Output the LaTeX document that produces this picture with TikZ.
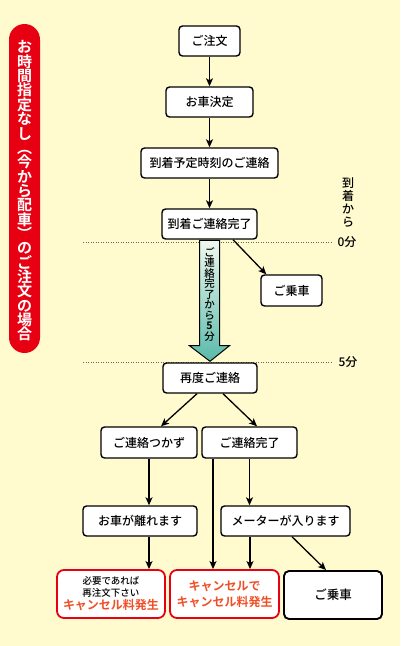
\documentclass[tikz,border=0pt]{standalone}
\usepackage{fontspec}
\setmainfont{Noto Sans CJK JP}[UprightFont={Noto Sans CJK JP Medium},BoldFont={Noto Sans CJK JP Bold}]
\usetikzlibrary{arrows.meta,calc}
\definecolor{bg}{RGB}{255,251,207}
\definecolor{pillred}{RGB}{230,0,18}
\definecolor{cancel}{RGB}{240,80,40}
\definecolor{tealA}{RGB}{88,186,170}
\definecolor{tealB}{RGB}{240,248,238}
\begin{document}
\begin{tikzpicture}[x=1pt,y=-1pt,
  box/.style={draw, line width=1.4pt, rounded corners=3.5pt, fill=white, inner sep=0,
              minimum height=30pt, font=\fontsize{12}{12}\selectfont},
  redbox/.style={draw=pillred, line width=1.8pt, rounded corners=7pt, fill=white, inner sep=0,
              minimum height=48pt, align=center},
  arr/.style={line width=1.3pt, -{Stealth[length=8pt,width=7pt,inset=2pt]}},
  guide/.style={black!60, line width=0.8pt, dash pattern=on 1pt off 1.5pt},
  lbl/.style={font=\fontsize{12}{12}\selectfont, inner sep=0}]
\useasboundingbox (0,0) rectangle (400,646);
\fill[bg] (0,0) rectangle (400,646);

% left pill
\node[fill=pillred, rounded corners=15.5pt, minimum width=31pt, minimum height=329pt, inner sep=0] (pill) at (24.5,188.5) {};
\node[text=white, align=center, inner sep=0, font=\bfseries\fontsize{15}{14.35}\selectfont] (pilltext) at (24.5,191) {お\\時\\間\\指\\定\\な\\し\\︵\\今\\か\\ら\\配\\車\\︶\\の\\ご\\注\\文\\の\\場\\合};

% guide lines
\draw[guide] (83,242) -- (333,242);
\draw[guide] (83,362) -- (333,362);
\node[lbl] (t0) at (347,242) {0分};
\node[lbl] (t5) at (348,362) {5分};
\node[lbl, align=center, font=\fontsize{12}{13}\selectfont] (tk) at (348,203) {到\\着\\か\\ら};

% boxes
\node[box, minimum width=61pt]  (a1) at (209.5,41)  {ご注文};
\node[box, minimum width=87pt]  (a2) at (209.5,102) {お車決定};
\node[box, minimum width=137pt] (a3) at (209.5,163) {到着予定時刻のご連絡};
\node[box, minimum width=95pt]  (a4) at (209.5,224) {到着ご連絡完了};
\node[box, minimum width=61pt, minimum height=31pt] (b1) at (291.5,290.5) {ご乗車};
\node[box, minimum width=94pt]  (a5) at (210,378)   {再度ご連絡};
\node[box, minimum width=96pt, minimum height=31pt] (c1) at (149,442.5) {ご連絡つかず};
\node[box, minimum width=95pt, minimum height=31pt] (c2) at (249.5,442.5) {ご連絡完了};
\node[box, minimum width=114pt] (d1) at (140,521)   {お車が離れます};
\node[box, minimum width=129pt] (d2) at (285.5,521) {メーターが入ります};
\node[redbox, minimum width=108pt, font=\fontsize{9.5}{12}\selectfont] (e1) at (111,594)
  {必要であれば\\再注文下さい\\[1pt]\textcolor{cancel}{\bfseries\fontsize{12}{12}\selectfont キャンセル料発生}};
\node[redbox, minimum width=109pt, text=cancel, font=\bfseries\fontsize{12}{16}\selectfont] (e2) at (224.5,594)
  {キャンセルで\\キャンセル料発生};
\node[box, line width=1.9pt, rounded corners=5pt, minimum width=98pt, minimum height=48pt, font=\fontsize{12.5}{12.5}\selectfont] (e3) at (333,595) {ご乗車};

% big arrow
\shade[top color=tealB, bottom color=tealA, draw=black, line width=1pt]
  ($(a4.south)+(-10,0.7)$) -- ($(a4.south)+(10,0.7)$) -- ($(a4.south)+(10,106)$)
  -- ($(a4.south)+(20,106)$) -- ($(a5.north)+(0,-1)$) -- ($(a4.south)+(-20,106)$)
  -- ($(a4.south)+(-10,106)$) -- cycle;
\node[align=center, inner sep=0, font=\fontsize{10.5}{10.5}\selectfont] (at) at (209.5,294)
  {ご\\連\\絡\\完\\了\\か\\ら\\\textbf{5}\\分};

% connectors
\draw[arr] (a1) -- (a2);
\draw[arr] (a2) -- (a3);
\draw[arr] (a3) -- (a4);
\draw[arr] ($(a4.south)+(23.5,0)$) -- ($(b1.north west)+(6,0)$);
\draw[arr] ($(a5.south)+(-13,0)$) -- ($(c1.north)+(12,0)$);
\draw[arr] ($(a5.south)+(13,0)$) -- ($(c2.north)+(7.5,0)$);
\draw[arr] (c1.south) -- (c1.south |- d1.north);
\draw[arr] (c2.south) -- (c2.south |- d2.north);
\coordinate (p1) at ($(c2.south)+(-36.5,0)$);
\draw[arr] (p1) -- (p1 |- e2.north);
\coordinate (p2) at ($(d2.south)+(-35.5,0)$);
\draw[arr] (p2) -- (p2 |- e2.north);
\draw[arr] ($(d2.south)+(6.5,0)$) -- ($(e3.north)+(-7,0)$);
\coordinate (p3) at ($(d1.south)+(9,0)$);
\draw[arr] (p3) -- (p3 |- e1.north);
\end{tikzpicture}
\end{document}
